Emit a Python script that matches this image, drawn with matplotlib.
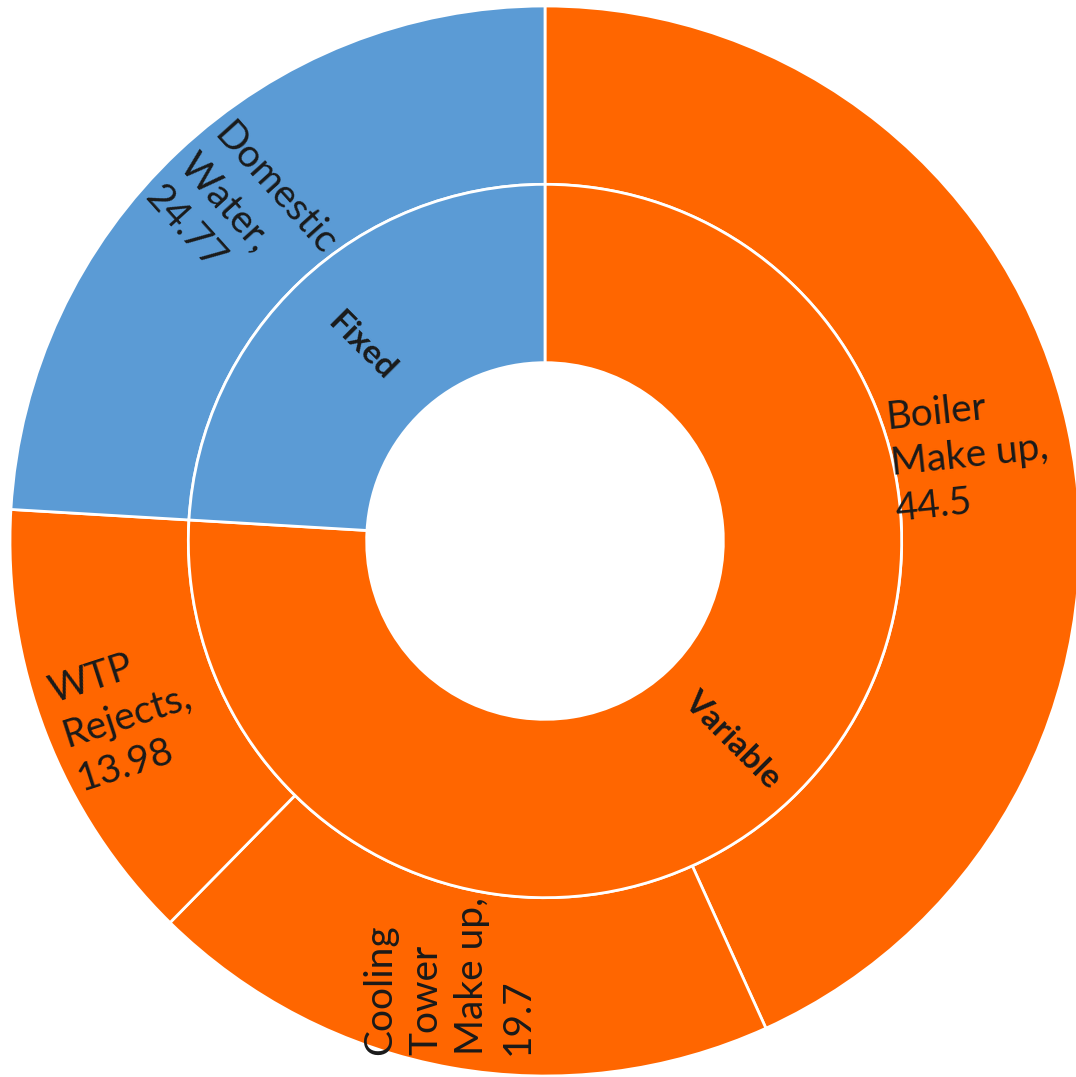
#
# Sunburst: water consumption split, fixed vs variable
#
import numpy as np
import matplotlib.pyplot as plt

plt.rcParams['font.family'] = ['Lato', 'DejaVu Sans']

groups = ['Fixed', 'Variable']
items = ['Boiler\nMake up,\n44.5', 'Cooling\nTower\nMake up,\n19.7',
         'WTP\nRejects,\n13.98', 'Domestic\nWater,\n24.77']
item_values = [44.5, 19.7, 13.98, 24.77]
item_group = ['Variable', 'Variable', 'Variable', 'Fixed']

orange = '#FF6600'
blue = '#5B9BD5'
colours = {'Fixed': blue, 'Variable': orange}

# inner ring in the same order as the outer ring (clockwise from 12 o'clock)
inner_names = []
inner_values = []
for nm, v in zip(item_group, item_values):
    if inner_names and inner_names[-1] == nm:
        inner_values[-1] += v
    else:
        inner_names.append(nm)
        inner_values.append(v)

fig = plt.figure(figsize=(10.76, 10.77), dpi=100)
ax = fig.add_axes([0, 0, 1, 1])

wp = dict(width=1/3, edgecolor='white', linewidth=2)
ax.pie(item_values, radius=1.0, startangle=90, counterclock=False,
       colors=[colours[g] for g in item_group], wedgeprops=wp)
ax.pie(inner_values, radius=2/3, startangle=90, counterclock=False,
       colors=[colours[g] for g in inner_names], wedgeprops=wp)

def mid_angle(vals, i):
    tot = sum(vals)
    c = sum(vals[:i]) + vals[i] / 2
    return np.deg2rad(90 - 360 * c / tot)

# outer labels: (radius, angle shift, rotation)
outer_style = [(0.809, -0.8, 6), (0.832, -2.4, 90), (0.846, 1.7, 18), (0.827, 0.2, -48)]
for i, txt in enumerate(items):
    r, da, rot = outer_style[i]
    a = mid_angle(item_values, i) + np.deg2rad(da)
    ax.text(r * np.cos(a), r * np.sin(a), txt, fontsize=28, color='#1a1a1a',
            rotation=rot, rotation_mode='anchor', ha='center', va='center',
            multialignment='left', linespacing=1.35)

inner_style = [(0.51, 0, -45), (0.50, 0, -45)]
for i, txt in enumerate(inner_names):
    r, da, rot = inner_style[i]
    a = mid_angle(inner_values, i) + np.deg2rad(da)
    ax.text(r * np.cos(a), r * np.sin(a), txt, fontsize=24, fontweight='bold',
            color='#1a1a1a', rotation=rot, rotation_mode='anchor',
            ha='center', va='center')

ax.set_xlim(-545/535, (1076-545)/535)
ax.set_ylim(-(1077-541)/535, 541/535)
ax.set_aspect('auto')
ax.axis('off')

fig.savefig('out.png', dpi=100, facecolor='white')
